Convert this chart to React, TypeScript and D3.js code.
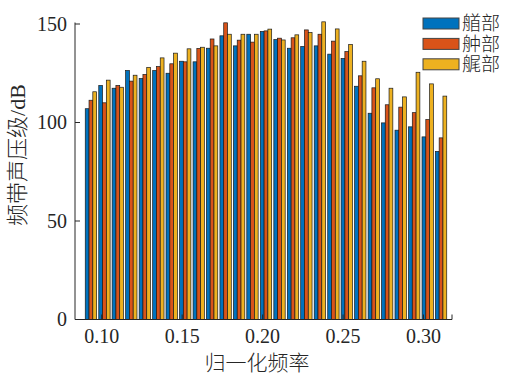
import React, { useEffect, useRef } from 'react';
import * as d3 from 'd3';

// normalized frequency of each band
const freqs = [
  0.0933, 0.1017, 0.1100, 0.1184, 0.1268, 0.1352, 0.1435, 0.1519, 0.1603,
  0.1686, 0.1770, 0.1854, 0.1937, 0.2021, 0.2105, 0.2189, 0.2272, 0.2356,
  0.2440, 0.2523, 0.2607, 0.2691, 0.2774, 0.2858, 0.2942, 0.3026, 0.3109
];

const seriesNames = ['艏部', '舯部', '艉部'];

const bow = [
  107, 118.8, 117.4, 126.4, 122.3, 126.4, 125, 131.1, 130.8,
  137.7, 144, 138.9, 144.8, 146.2, 142.1, 137.7, 138.6, 138.9,
  134.7, 132.5, 118.4, 104.7, 99.8, 96.1, 97.8, 92.7, 85.3
];
const mid = [
  111.3, 110, 118.8, 121, 124.4, 128.4, 129.8, 130.8, 137.6,
  142.4, 150.6, 141.8, 140.8, 146.5, 142.8, 143, 147, 144.8,
  141.3, 136, 123.7, 117.6, 109, 107.8, 105, 101.5, 92.2
];
const stern = [
  115.6, 121.5, 117.9, 124, 128, 132.8, 135.2, 137.4, 138.2,
  138.9, 144.8, 144.8, 144.8, 147.4, 141.9, 144.5, 145.7, 151.1,
  147.5, 139.6, 131.1, 122.2, 117.4, 113, 125.5, 119.6, 113.4
];

const xTicks = [0.10, 0.15, 0.20, 0.25, 0.30];
const yTicks = [0, 50, 100, 150];

const colors = ['#0072BD', '#D95319', '#EDB120'];

const W = 509;
const H = 375;

export default function App() {
  const ref = useRef<SVGSVGElement>(null);

  useEffect(() => {
    const svg = d3.select(ref.current);
    svg.selectAll('*').remove();

    const left = 75;
    const right = 452;
    const bottom = 319.5;

    const x = d3.scaleLinear().domain([0.0834, 0.3177]).range([left, right]);
    const y = d3.scaleLinear().domain([0, 150]).range([bottom, 24]);

    const step = x(freqs[1]) - x(freqs[0]);
    const bw = step * 0.28;

    const series = [bow, mid, stern];
    const g = svg.append('g');

    series.forEach((vals, si) => {
      g.selectAll(`.bar${si}`)
        .data(vals)
        .enter()
        .append('rect')
        .attr('x', (d, i) => x(freqs[i]) + (si - 1.5) * bw)
        .attr('y', (d) => y(d))
        .attr('width', bw)
        .attr('height', (d) => bottom - y(d))
        .attr('fill', colors[si])
        .attr('stroke', '#1a1a1a')
        .attr('stroke-width', 0.7);
    });

    const ax = svg.append('g').attr('stroke', '#262626').attr('stroke-width', 1).attr('fill', 'none');
    ax.append('line').attr('x1', left).attr('x2', left).attr('y1', bottom).attr('y2', 22.5);
    ax.append('line').attr('x1', left).attr('x2', right).attr('y1', bottom).attr('y2', bottom);
    ax.append('line').attr('x1', right).attr('x2', right).attr('y1', bottom).attr('y2', bottom - 5);

    yTicks.forEach((t) => {
      ax.append('line').attr('x1', left).attr('x2', left + 5).attr('y1', y(t)).attr('y2', y(t));
    });
    xTicks.forEach((t) => {
      ax.append('line').attr('x1', x(t)).attr('x2', x(t)).attr('y1', bottom).attr('y2', bottom - 5);
    });

    const serif = '"Liberation Serif", "Times New Roman", serif';
    const cjk = '"Liberation Serif", "Noto Sans CJK SC", serif';

    svg.append('g')
      .selectAll('text')
      .data(yTicks)
      .enter()
      .append('text')
      .attr('x', 67)
      .attr('y', (d) => y(d))
      .attr('dy', '0.34em')
      .attr('text-anchor', 'end')
      .attr('font-family', serif)
      .attr('font-size', 20)
      .attr('fill', '#262626')
      .text((d) => d);

    svg.append('g')
      .selectAll('text')
      .data(xTicks)
      .enter()
      .append('text')
      .attr('x', (d) => x(d))
      .attr('y', 343)
      .attr('text-anchor', 'middle')
      .attr('font-family', serif)
      .attr('font-size', 20)
      .attr('fill', '#262626')
      .text((d) => d3.format('.2f')(d));

    svg.append('text')
      .attr('x', 257)
      .attr('y', 370)
      .attr('text-anchor', 'middle')
      .attr('font-family', cjk)
      .attr('font-weight', 300)
      .attr('font-size', 21)
      .attr('fill', '#262626')
      .text('归一化频率');

    svg.append('text')
      .attr('transform', 'translate(25,155) rotate(-90)')
      .attr('text-anchor', 'middle')
      .attr('font-family', cjk)
      .attr('font-weight', 300)
      .attr('font-size', 22)
      .attr('fill', '#262626')
      .text('频带声压级/dB');

    const legend = svg.append('g');
    seriesNames.forEach((name, i) => {
      const ly = 18 + i * 20.4;
      legend.append('rect')
        .attr('x', 423)
        .attr('y', ly)
        .attr('width', 36)
        .attr('height', 11)
        .attr('fill', colors[i])
        .attr('stroke', '#444')
        .attr('stroke-width', 1);
      legend.append('text')
        .attr('x', 462)
        .attr('y', ly + 5.5)
        .attr('dy', '0.36em')
        .attr('font-family', cjk)
        .attr('font-weight', 300)
        .attr('font-size', 19)
        .attr('fill', '#262626')
        .text(name);
    });
  }, []);

  return (
    <div style={{ position: 'absolute', left: 0, top: 0 }}>
      <svg ref={ref} width={W} height={H} style={{ display: 'block', background: '#fff' }} />
    </div>
  );
}
